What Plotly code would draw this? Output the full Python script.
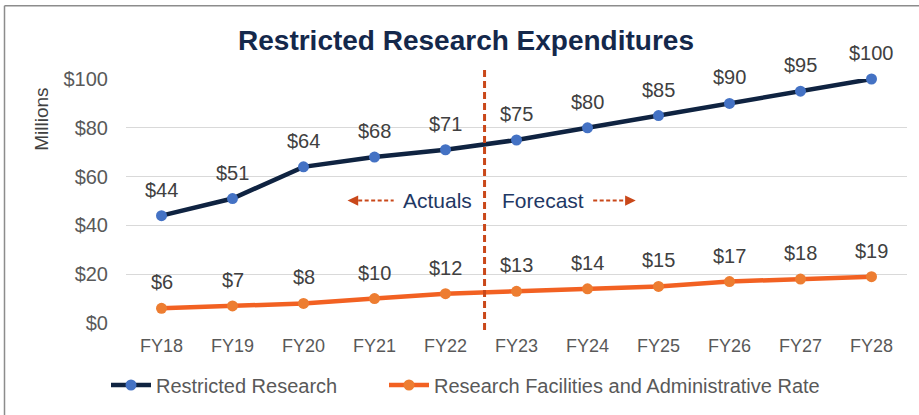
import plotly.graph_objects as go

# Fiscal years and spending (millions of dollars)
fiscal_years = ["FY18", "FY19", "FY20", "FY21", "FY22", "FY23", "FY24", "FY25", "FY26", "FY27", "FY28"]
restricted_research = [44, 51, 64, 68, 71, 75, 80, 85, 90, 95, 100]
facilities_admin_rate = [6, 7, 8, 10, 12, 13, 14, 15, 17, 18, 19]
y_ticks = [0, 20, 40, 60, 80, 100]
y_tick_labels = ["$0", "$20", "$40", "$60", "$80", "$100"]

W, H = 919, 415
ML, MR, MT, MB = 126, 12, 79, 91
PW, PH = W - ML - MR, H - MT - MB

FONT = "Liberation Sans, Arial, sans-serif"
NAVY = "#0F2341"
BLUE = "#4472C4"
ORANGE = "#F26122"
ORANGE_MK = "#ED7D31"
DIVIDER = "#C9481A"
LABEL_GRAY = "#404040"
TICK_GRAY = "#595959"


def px_to_paper_x(px):
    return (px - ML) / PW


def px_to_paper_y(py):
    return (H - MB - py) / PH


fig = go.Figure()

fig.add_trace(go.Scatter(
    x=fiscal_years, y=restricted_research, name="Restricted Research",
    mode="lines+markers",
    line=dict(color=NAVY, width=4.5),
    marker=dict(color=BLUE, size=11),
    cliponaxis=False, legend="legend",
))

fig.add_trace(go.Scatter(
    x=fiscal_years, y=facilities_admin_rate,
    name="Research Facilities and Administrative Rate",
    mode="lines+markers",
    line=dict(color=ORANGE, width=4.5),
    marker=dict(color=ORANGE_MK, size=11),
    cliponaxis=False, legend="legend2",
))

annotations = []
# value labels above each point
for series in (restricted_research, facilities_admin_rate):
    for fy, v in zip(fiscal_years, series):
        annotations.append(dict(
            x=fy, y=v, xref="x", yref="y", text=f"${v}", showarrow=False,
            xanchor="center", yanchor="middle", yshift=26,
            font=dict(family=FONT, size=20, color=LABEL_GRAY)))

shapes = []
# Actuals / forecast divider between FY22 and FY23
shapes.append(dict(type="line", xref="x", yref="paper", x0=4.55, x1=4.55,
                   y0=px_to_paper_y(331), y1=px_to_paper_y(70),
                   line=dict(color=DIVIDER, width=3, dash="7px,4px")))

arrow_y = 50.2
head_dx, head_dy = 0.15, 2.1
left_tip, left_tail = 2.62, 3.27
right_tail, right_tip = 6.08, 6.68
# left-pointing dashed arrow next to "Actuals"
shapes.append(dict(type="line", xref="x", yref="y", x0=left_tip + head_dx, x1=left_tail,
                   y0=arrow_y, y1=arrow_y,
                   line=dict(color=DIVIDER, width=2, dash="4px,2.5px")))
shapes.append(dict(type="path", xref="x", yref="y",
                   path=f"M {left_tip} {arrow_y} L {left_tip + head_dx} {arrow_y + head_dy} "
                        f"L {left_tip + head_dx} {arrow_y - head_dy} Z",
                   fillcolor=DIVIDER, line=dict(width=0)))
# right-pointing dashed arrow next to "Forecast"
shapes.append(dict(type="line", xref="x", yref="y", x0=right_tail, x1=right_tip - head_dx,
                   y0=arrow_y, y1=arrow_y,
                   line=dict(color=DIVIDER, width=2, dash="4px,2.5px")))
shapes.append(dict(type="path", xref="x", yref="y",
                   path=f"M {right_tip} {arrow_y} L {right_tip - head_dx} {arrow_y + head_dy} "
                        f"L {right_tip - head_dx} {arrow_y - head_dy} Z",
                   fillcolor=DIVIDER, line=dict(width=0)))

# outer chart frame (top and left edges visible)
frame_x0 = px_to_paper_x(4.5)
frame_y0 = px_to_paper_y(5.5)
shapes.append(dict(type="line", xref="paper", yref="paper",
                   x0=frame_x0, x1=px_to_paper_x(W + 10), y0=frame_y0, y1=frame_y0,
                   line=dict(color="#8C8C8C", width=1.5)))
shapes.append(dict(type="line", xref="paper", yref="paper",
                   x0=frame_x0, x1=frame_x0, y0=frame_y0, y1=px_to_paper_y(H + 10),
                   line=dict(color="#8C8C8C", width=1.5)))

annotations += [
    dict(text="Actuals", x=3.89, y=arrow_y, xref="x", yref="y", showarrow=False,
         xanchor="center", yanchor="middle",
         font=dict(family=FONT, size=21, color="#1F3864")),
    dict(text="Forecast", x=5.37, y=arrow_y, xref="x", yref="y", showarrow=False,
         xanchor="center", yanchor="middle",
         font=dict(family=FONT, size=21, color="#1F3864")),
    dict(text="Millions", textangle=-90, xref="paper", yref="paper",
         x=px_to_paper_x(42), y=px_to_paper_y(120), showarrow=False,
         xanchor="center", yanchor="middle",
         font=dict(family=FONT, size=19, color=LABEL_GRAY)),
]

legend_style = dict(orientation="h", xanchor="left", yanchor="middle",
                    y=px_to_paper_y(385),
                    font=dict(family=FONT, size=20, color=TICK_GRAY),
                    bgcolor="rgba(0,0,0,0)", itemwidth=40)

fig.update_layout(
    width=W, height=H,
    margin=dict(l=ML, r=MR, t=MT, b=MB, pad=0),
    paper_bgcolor="white", plot_bgcolor="white",
    title=dict(text="<b>Restricted Research Expenditures</b>",
               x=466 / W, xanchor="center",
               y=1 - 40 / H, yanchor="middle",
               font=dict(family=FONT, size=28, color="#14284B")),
    showlegend=True,
    legend=dict(x=px_to_paper_x(106), **legend_style),
    legend2=dict(x=px_to_paper_x(384), **legend_style),
    shapes=shapes,
    annotations=annotations,
    font=dict(family=FONT),
)

fig.update_xaxes(
    type="category", range=[-0.5, 10.5], showgrid=False, zeroline=False,
    showline=False, ticks="",
    tickfont=dict(family=FONT, size=18, color=TICK_GRAY),
    ticklabelstandoff=10,
    fixedrange=True,
)
fig.update_yaxes(
    range=[0, 100], tickvals=y_ticks, ticktext=y_tick_labels,
    showgrid=True, gridcolor="#D9D9D9", gridwidth=1.2,
    zeroline=False, showline=False, ticks="",
    tickfont=dict(family=FONT, size=20, color=TICK_GRAY),
    ticklabelstandoff=17,
    fixedrange=True,
)

fig.write_html("out.html")
